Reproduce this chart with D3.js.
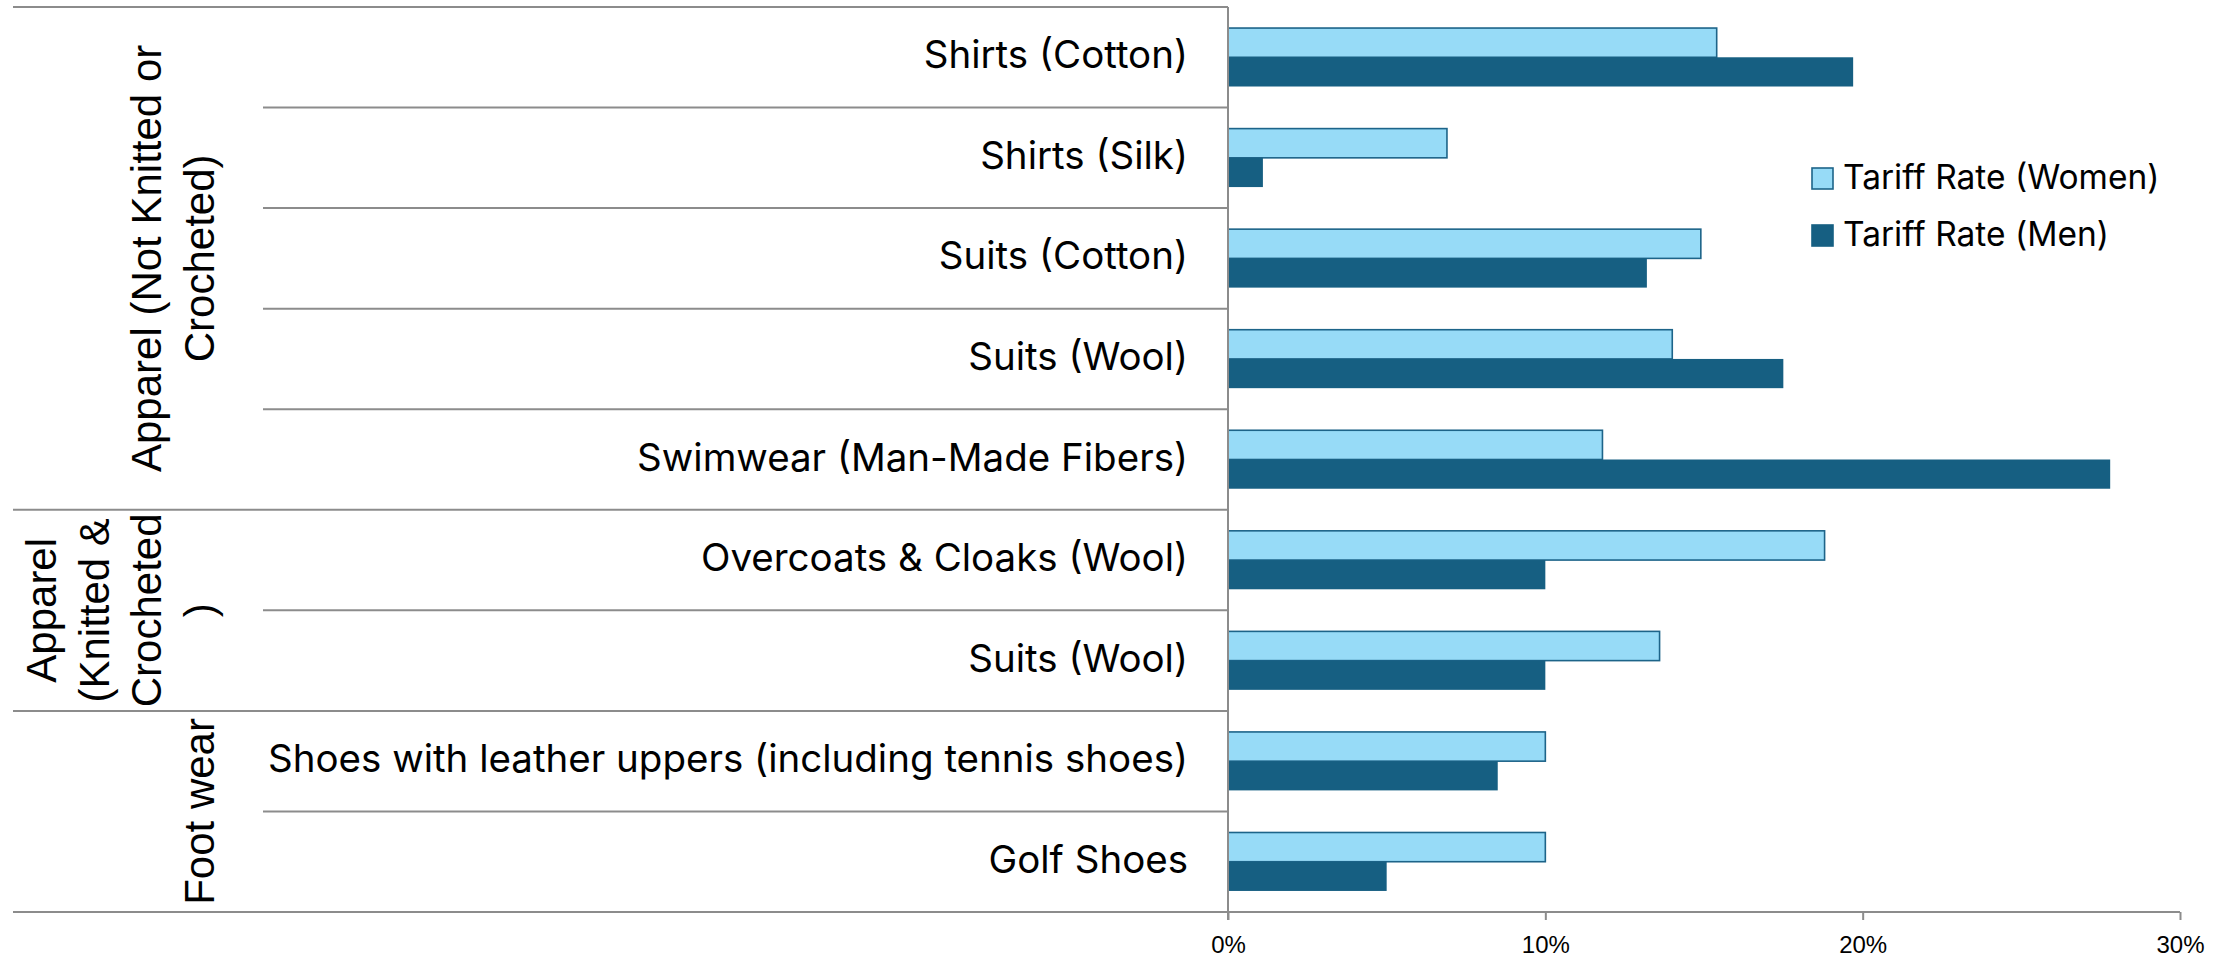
<!DOCTYPE html>
<html>
<head>
<meta charset="utf-8">
<script src="https://cdn.jsdelivr.net/npm/d3@7"></script>
<style>
  html, body { margin: 0; padding: 0; background: #ffffff; }
  svg { display: block; }
</style>
</head>
<body>
<div id="chart"></div>
<script>
// ---------------- data ----------------
const categories = [
  "Shirts (Cotton)",
  "Shirts (Silk)",
  "Suits (Cotton)",
  "Suits (Wool)",
  "Swimwear (Man-Made Fibers)",
  "Overcoats & Cloaks (Wool)",
  "Suits (Wool)",
  "Shoes with leather uppers (including tennis shoes)",
  "Golf Shoes"
];
const categoryGroup = [0, 0, 0, 0, 0, 1, 1, 2, 2];
const groupLabels = [
  ["Apparel (Not Knitted or", "Crocheted)"],
  ["Apparel", "(Knitted &", "Crocheted", ")"],
  ["Foot wear"]
];
const seriesNames = ["Tariff Rate (Women)", "Tariff Rate (Men)"];
const womenRates = [15.4, 6.9, 14.9, 14.0, 11.8, 18.8, 13.6, 10.0, 10.0];
const menRates   = [19.7, 1.1, 13.2, 17.5, 27.8, 10.0, 10.0, 8.5, 5.0];
const tickValues = [0, 10, 20, 30];

// ---------------- layout ----------------
const W = 2228, H = 957;
const plotLeft = 1228, plotRight = 2180, plotTop = 7, plotBottom = 912;
const tableLeft = 13, rowLineLeft = 263;
const gridColor = "#8c8c8c";
const womenFill = "#97dbf7", womenStroke = "#1d6489";
const menFill = "#165f82";

const svg = d3.select("#chart").append("svg")
  .attr("width", W).attr("height", H)
  .style("background", "#fff");

const idx = categories.map((d, i) => i);
const y = d3.scaleBand().domain(idx).range([plotTop, plotBottom]).padding(0);
const sub = d3.scaleBand().domain([0, 1]).range([0, y.bandwidth()])
  .paddingInner(0).paddingOuter(0.72);
const x = d3.scaleLinear().domain([0, 30]).range([plotLeft, plotRight]);

const catFont = "Inter, 'Open Sans', sans-serif";
const armFont = "'Liberation Sans', Arial, sans-serif";

// ---------- table lines ----------
const lines = svg.append("g").attr("stroke", gridColor).attr("stroke-width", 2).attr("fill", "none");
lines.append("line").attr("x1", tableLeft).attr("x2", plotLeft)
  .attr("y1", y(0)).attr("y2", y(0));
idx.slice(1).forEach(i => {
  const isGroupBoundary = categoryGroup[i] !== categoryGroup[i - 1];
  lines.append("line")
    .attr("x1", isGroupBoundary ? tableLeft : rowLineLeft)
    .attr("x2", plotLeft)
    .attr("y1", y(i)).attr("y2", y(i));
});

// ---------- bars ----------
const barG = svg.append("g");
idx.forEach(i => {
  barG.append("rect")
    .attr("x", x(0))
    .attr("y", y(i) + sub(0))
    .attr("width", x(womenRates[i]) - x(0))
    .attr("height", sub.bandwidth())
    .attr("fill", womenFill)
    .attr("stroke", womenStroke)
    .attr("stroke-width", 1.6);
  barG.append("rect")
    .attr("x", x(0))
    .attr("y", y(i) + sub(1))
    .attr("width", x(menRates[i]) - x(0))
    .attr("height", sub.bandwidth())
    .attr("fill", menFill);
});

// ---------- x axis ----------
const xAxis = d3.axisBottom(x).tickValues(tickValues)
  .tickSize(8).tickSizeOuter(0).tickFormat(d => d + "%");
const axG = svg.append("g").attr("transform", `translate(0,${plotBottom})`).call(xAxis);
axG.select(".domain").remove();
axG.selectAll(".tick line").attr("stroke", gridColor).attr("stroke-width", 2);
axG.selectAll(".tick text")
  .attr("y", 0).attr("dy", null)
  .attr("transform", "translate(0,41)")
  .attr("font-family", armFont).attr("font-size", 24).attr("fill", "#000");
svg.append("line").attr("x1", tableLeft).attr("x2", plotRight)
  .attr("y1", plotBottom).attr("y2", plotBottom)
  .attr("stroke", gridColor).attr("stroke-width", 2);
svg.append("line").attr("x1", plotLeft).attr("x2", plotLeft)
  .attr("y1", plotTop).attr("y2", plotBottom + 8)
  .attr("stroke", gridColor).attr("stroke-width", 2);

// ---------- category labels ----------
svg.append("g").selectAll("text").data(idx).join("text")
  .attr("x", 1188)
  .attr("y", i => y(i) + y.bandwidth() / 2 + 11)
  .attr("text-anchor", "end")
  .attr("font-family", catFont).attr("font-size", 38.5).attr("fill", "#000")
  .text(i => categories[i]);

// ---------- group labels ----------
groupLabels.forEach((lbls, g) => {
  const members = idx.filter(i => categoryGroup[i] === g);
  const top = y(members[0]);
  const bottom = y(members[members.length - 1]) + y.bandwidth();
  const cy = (top + bottom) / 2;
  const lastBase = 214, lh = 52.7;
  lbls.forEach((t, k) => {
    const bx = lastBase - (lbls.length - 1 - k) * lh;
    svg.append("text")
      .attr("transform", `translate(${bx},${cy}) rotate(-90)`)
      .attr("text-anchor", "middle")
      .attr("font-family", armFont).attr("font-size", 42).attr("fill", "#000")
      .text(t);
  });
});

// ---------- legend ----------
const legend = svg.append("g");
const legendY = [179, 236];
seriesNames.forEach((name, k) => {
  legend.append("rect")
    .attr("x", 1812).attr("y", legendY[k] - 11)
    .attr("width", 21).attr("height", 21)
    .attr("fill", k === 0 ? womenFill : menFill)
    .attr("stroke", k === 0 ? womenStroke : menFill)
    .attr("stroke-width", 1.6);
  legend.append("text")
    .attr("x", 1843).attr("y", legendY[k] + 10)
    .attr("font-family", catFont).attr("font-size", 33.5).attr("fill", "#000")
    .text(name);
});
</script>
</body>
</html>
